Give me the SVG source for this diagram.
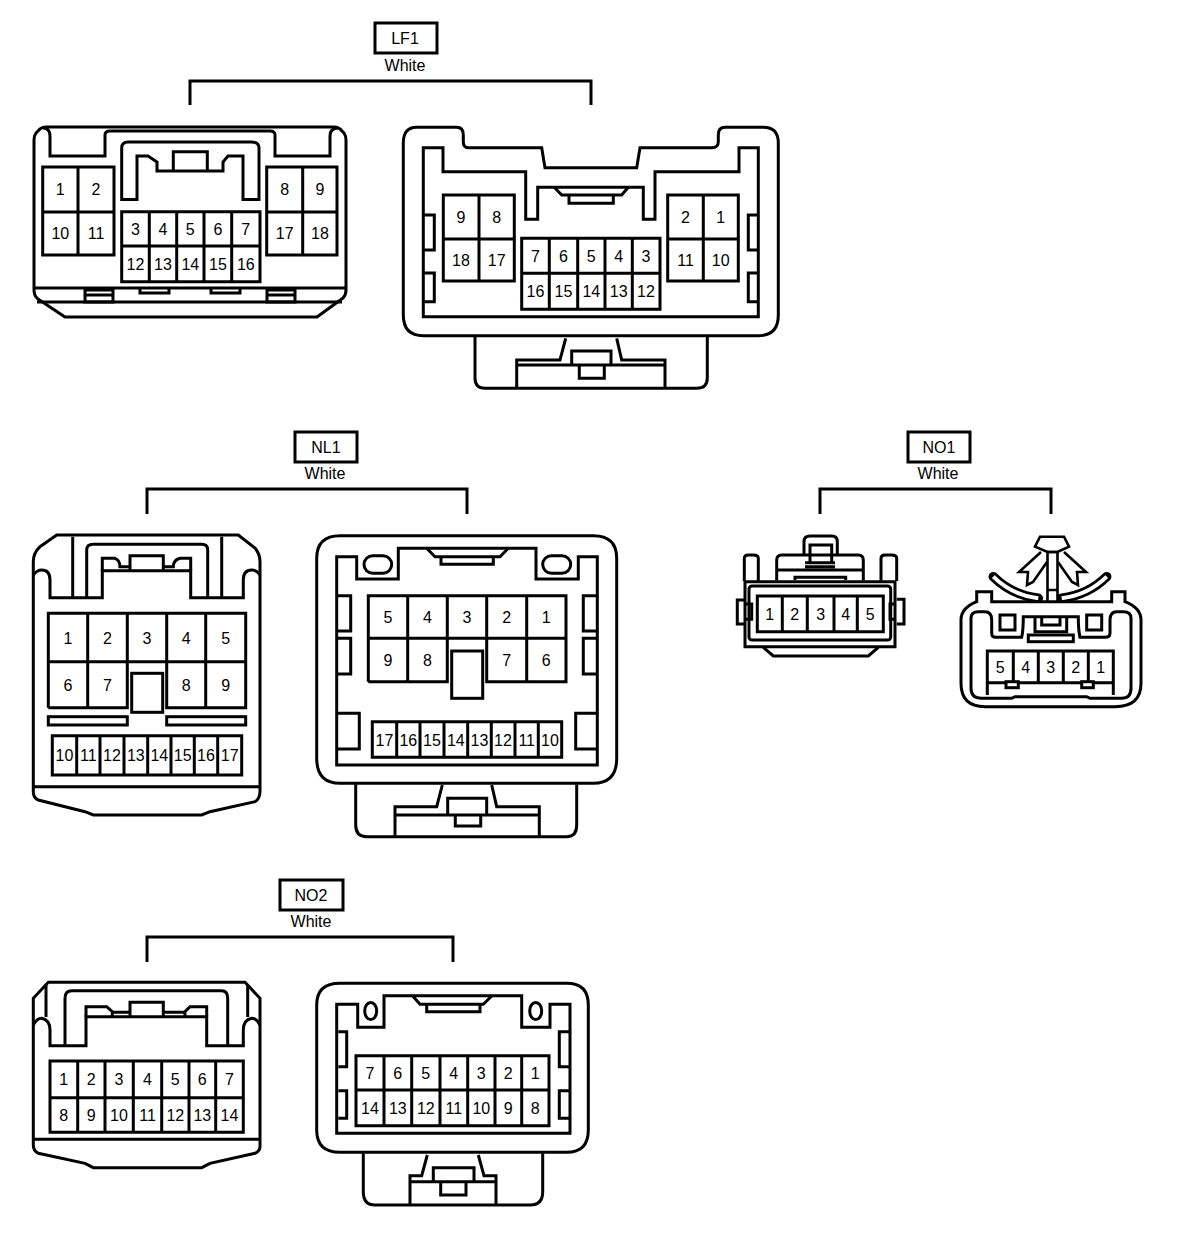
<svg xmlns="http://www.w3.org/2000/svg" width="1184" height="1234" viewBox="0 0 1184 1234">
<style>
path,rect,ellipse,line{fill:none;stroke:#000;stroke-width:3}
.t{stroke-width:2.6}
.w{stroke:#fff;stroke-width:4}
.a{stroke-width:9.5;stroke-linecap:round}
text{font-family:"Liberation Sans",Arial,sans-serif;font-size:16px;text-anchor:middle;fill:#000}
</style>
<rect width="1184" height="1234" style="fill:#fff;stroke:none"/>
<g id="connectors">
<path d="M190 105V81H591V105"/>
<path d="M147 514V489H467V514"/>
<path d="M820 514V489H1051V514"/>
<path d="M147 962V937H453V962"/>
</g>
<g id="label-LF1"><rect x="375" y="23" width="62" height="30"/><text x="405" y="44">LF1</text><text x="405" y="71">White</text></g>
<g id="label-NL1"><rect x="295" y="432" width="62" height="30"/><text x="326" y="453">NL1</text><text x="325" y="479">White</text></g>
<g id="label-NO1"><rect x="908" y="432" width="62" height="30"/><text x="939" y="453">NO1</text><text x="938" y="479">White</text></g>
<g id="label-NO2"><rect x="280" y="880" width="63" height="30"/><text x="311" y="901">NO2</text><text x="311" y="927">White</text></g>

<g id="LF1-left">
<path d="M46 127H334Q339 127 342 131L344 133Q346 136 346 140V290Q346 295 343 298L317 317H65L38 299Q34 296 34 290V140Q34 136 36 133L38 131Q41 127 46 127Z"/>
<path d="M34 288H346M37 302H342"/>
<path d="M43 128Q50 128 50 136V156H105V135Q105 131 110 131H270Q275 131 275 135V156H330V136Q330 128 338 128"/>
<path d="M121.7 199.5V148Q121.7 142 128 142H251Q259 142 259 148V199.5H243V156H228L223 162V171H157V162L148 156H137V199.5Z"/>
<path d="M173.3 171V151.7H207.3V171"/>
<path d="M85 290H113V302H85ZM85 295H113M267 290H295V302H267ZM267 295H295M140 289V293H169V289M211 289V293H240V289"/>
<path d="M42.7 167H114V255H42.7ZM42.7 212H114M78 167V255"/>
<path d="M266.7 167H337V255H266.7ZM266.7 212H337M302.7 167V255"/>
<path d="M121.7 211.7H260V281.7H121.7ZM121.7 246H260M149.3 211.7V281.7M176.7 211.7V281.7M204 211.7V281.7M231.7 211.7V281.7"/>
<text x="60.3" y="195">1</text><text x="96" y="195">2</text><text x="60.3" y="239">10</text><text x="96" y="239">11</text>
<text x="284.7" y="195">8</text><text x="320" y="195">9</text><text x="284.7" y="239">17</text><text x="320" y="239">18</text>
<text x="135.5" y="235">3</text><text x="163" y="235">4</text><text x="190.3" y="235">5</text><text x="218" y="235">6</text><text x="245.8" y="235">7</text>
<text x="135.5" y="270">12</text><text x="163" y="270">13</text><text x="190.3" y="270">14</text><text x="218" y="270">15</text><text x="245.8" y="270">16</text>
</g>

<g id="LF1-right">
<path d="M416.7 127.3H456.7Q463.3 127.3 463.3 135V141.7Q463.3 147.7 468.3 147.7H541.7L545 167.7H636.7L640 147.7H711.7Q718.3 147.7 718.3 141.7V135Q718.3 127.3 725 127.3H763.3Q778.3 127.3 778.3 143V315Q778.3 335.7 758.3 335.7H423.3Q403.3 335.7 403.3 315V143Q403.3 127.3 416.7 127.3Z"/>
<path d="M423.3 147.7H443V171.7H525.7V219.3H537.7V187.3H643.3V219.3H655V171.7H739V147.7H758.3V316.7H423.3Z"/>
<path d="M554.3 187.3L561.7 195H621.7L628.3 187.3M569 195V203.3H613.3V195"/>
<path d="M424 215H434.3V250H424M424 273H434.3V301.7H424M758 215H748.3V250H758M758 273H748.3V301.7H758"/>
<path d="M443.3 195H514.3V281H443.3ZM443.3 239H514.3M479 195V281"/>
<path d="M667.7 195H738.3V281H667.7ZM667.7 239H738.3M703.3 195V281"/>
<path d="M521.7 238.3H660V309.3H521.7ZM521.7 273.3H660M549.3 238.3V309.3M577.7 238.3V309.3M605 238.3V309.3M632.3 238.3V309.3"/>
<path d="M475 336.7V378Q475 388.3 485 388.3H696.7Q707.3 388.3 707.3 378V336.7"/>
<path d="M516.7 388V360H560L565.7 338.3M665 388V360H621.7L616.7 338.3M516.7 365H665M571.7 365V351H611V365M579.3 365V378.3H604.3V365"/>
<text x="461" y="223">9</text><text x="496.7" y="223">8</text><text x="461" y="266">18</text><text x="496.7" y="266">17</text>
<text x="685.5" y="223">2</text><text x="720.7" y="223">1</text><text x="685.5" y="266">11</text><text x="720.7" y="266">10</text>
<text x="535.5" y="262">7</text><text x="563.5" y="262">6</text><text x="591.3" y="262">5</text><text x="618.7" y="262">4</text><text x="646" y="262">3</text>
<text x="535.5" y="297">16</text><text x="563.5" y="297">15</text><text x="591.3" y="297">14</text><text x="618.7" y="297">13</text><text x="646" y="297">12</text>
</g>

<g id="NL1-left">
<path d="M56.7 535H238.3L255 548Q260 554 260 561.7V791Q260 799 255 801.7L210 811.7L201.7 815H93.3L85 811.7L38.3 800Q33.3 798 33.3 791.7V561.7Q33.3 553 40 546.7Z"/>
<path d="M33.3 786.7H260"/>
<path d="M33.3 575Q37 570 41.7 570Q50 570 50 580V597.7H102.3V570.7H190.7V597.7H243.3V580Q243.3 570 251.7 570Q256.7 570 260 575"/>
<path d="M86.7 597.7V550Q86.7 544.3 93.3 544.3H201.7Q207.7 544.3 207.7 550V597.7M72.7 597.7V536.7M221.7 597.7V536.7"/>
<path d="M102.3 570.7V558.3H115Q120 560 120 566.7H130M130 570.7V555.7H163.3V570.7M163.3 566.7H173.3Q173.3 560 180 558.3H190.7V570.7"/>
<path d="M48.3 707.7V613.3H245.7V707.7H166.7V613.3M48.3 707.7H127.3V613.3M48.3 661.7H245.7M87.7 613.3V707.7M205.7 613.3V707.7"/>
<rect x="131.7" y="673.3" width="31" height="39"/>
<rect x="48.3" y="716.7" width="79" height="8.3"/><rect x="166.7" y="716.7" width="79" height="8.3"/>
<path d="M52.3 735.7H241.7V775H52.3ZM76.7 735.7V775M100 735.7V775M124 735.7V775M147.7 735.7V775M171 735.7V775M194.3 735.7V775M217.7 735.7V775"/>
<text x="68" y="643.5">1</text><text x="107.5" y="643.5">2</text><text x="147" y="643.5">3</text><text x="186.2" y="643.5">4</text><text x="225.7" y="643.5">5</text>
<text x="68" y="690.7">6</text><text x="107.5" y="690.7">7</text><text x="186.2" y="690.7">8</text><text x="225.7" y="690.7">9</text>
<text x="64.5" y="761.3">10</text><text x="88.3" y="761.3">11</text><text x="112" y="761.3">12</text><text x="135.8" y="761.3">13</text><text x="159.3" y="761.3">14</text><text x="182.7" y="761.3">15</text><text x="206" y="761.3">16</text><text x="229.7" y="761.3">17</text>
</g>

<g id="NL1-right">
<path d="M340 535.7H593.3Q616.7 535.7 616.7 558.3V758.3Q616.7 783.3 593.3 783.3H340Q316.7 783.3 316.7 758.3V558.3Q316.7 535.7 340 535.7Z"/>
<path d="M336.7 556.7H356.7V579H398.3V548.3H536V579H578.3V556.7H597.3V765H336.7Z"/>
<path d="M426.7 548.3L435 556.7H500L508.3 548.3M441 556.7V564.3H493.3V556.7"/>
<rect x="364" y="555.7" width="27.7" height="17.6" rx="8.8"/><rect x="542.7" y="555.7" width="28" height="17.6" rx="8.8"/>
<path d="M338 595.7H350.7V631H338M338 638.3H350.7V674H338M338 713.3H359.3V749H338M596 595.7H583.3V631H596M596 638.3H583.3V674H596M596 713.3H575.7V749H596"/>
<path d="M368.3 681.7V595.7H566V681.7H486.7V595.7M368.3 681.7H447.3V595.7M368.3 638.3H566M407.7 595.7V681.7M526.7 595.7V681.7"/>
<rect x="451.7" y="651" width="31" height="47.3"/>
<path d="M372.3 721.7H561.7V757.3H372.3ZM396.7 721.7V757.3M420 721.7V757.3M444 721.7V757.3M467.7 721.7V757.3M491.3 721.7V757.3M515 721.7V757.3M538.3 721.7V757.3"/>
<path d="M355.7 784.3V825Q355.7 836.7 366.7 836.7H566.7Q576.7 836.7 576.7 825V784.3"/>
<path d="M395 836V806.7H436.7L442.3 785M539.3 836V806.7H496.7L491.7 785M395 815H539.3M447.7 815V798.3H486.7V815M455.3 815V826H480.7V815"/>
<text x="388" y="623">5</text><text x="427.5" y="623">4</text><text x="467" y="623">3</text><text x="506.7" y="623">2</text><text x="546.3" y="623">1</text>
<text x="388" y="666">9</text><text x="427.5" y="666">8</text><text x="506.7" y="666">7</text><text x="546.3" y="666">6</text>
<text x="384.5" y="745.5">17</text><text x="408.3" y="745.5">16</text><text x="432" y="745.5">15</text><text x="455.8" y="745.5">14</text><text x="479.5" y="745.5">13</text><text x="503" y="745.5">12</text><text x="526.7" y="745.5">11</text><text x="550" y="745.5">10</text>
</g>

<g id="NO1-left">
<path d="M804 555V541.7Q804 536 810 536H831.7Q837.3 536 837.3 541.7V555M810 562.7V545H831.7V562.7"/>
<path d="M776.7 580.7V560Q776.7 555 781.7 555H858.3Q863.3 555 863.3 560V580.7M776.7 570H863.3M805 562.7H835M805 566.7H835"/>
<path d="M744.3 581V558.3Q744.3 555 748.3 555H753.3Q758.3 555 758.3 558.3V581M881 581V558.3Q881 555 885 555H891.7Q896.7 555 896.7 558.3V581"/>
<path d="M795 580V577.3H845.7V580"/>
<path d="M745 581.7H895V646.7H745Z"/>
<rect x="749" y="586" width="141.7" height="54" rx="3"/>
<path d="M757.3 596H883.3V631.7H757.3ZM782.3 596V631.7M807.3 596V631.7M834 596V631.7M857.3 596V631.7"/>
<path d="M744.5 600H737.3V624H744.5M744.5 604H751.7V619.3H744.5M895 604H890V619.3H895M896.7 599.3H904V624H896.7"/>
<path d="M763.3 647.3L773.3 656H868.3L878.3 647.3"/>
<text x="769.8" y="619.8">1</text><text x="794.8" y="619.8">2</text><text x="820.6" y="619.8">3</text><text x="845.6" y="619.8">4</text><text x="870.3" y="619.8">5</text>
</g>

<g id="NO1-right">
<path class="a" d="M993.3 576.7Q1011.7 595 1038.3 598.3"/><path class="w" d="M993.3 576.7Q1011.7 595 1038.3 598.3"/>
<path class="a" d="M1106.7 576.7Q1088.3 595 1061.7 598.3"/><path class="w" d="M1106.7 576.7Q1088.3 595 1061.7 598.3"/>
<path class="t" d="M1047.5 601V552H1057.5V601M1047.5 590H1057.5"/>
<path class="t" d="M1035 546.7L1040 536.7H1064L1069 546.7L1057.5 552H1047.5Z"/>
<path class="t" d="M1041 552L1019 572H1028L1027 585L1033 582L1047 562M1064 552L1086 572H1077L1078 585L1072 582L1058 562"/>
<path d="M976.7 601.7V591.7H991.7V601.7H1111.7V591.7H1125V601.7Q1141 608 1141 620V683.3Q1141 706.7 1115 706.7H985Q961 706.7 961 683.3V620Q961 608 976.7 601.7Z"/>
<path d="M971 688.3Q971 698.3 981.7 698.3H1011.7L1015 696.7H1086.7L1090 698.3H1121.7Q1131 698.3 1131 688.3V618.3Q1131 611.7 1123.3 611.7H1116.7Q1110 611.7 1110 620V633.3Q1110 637.3 1105 637.3H1080Q1078.3 630 1078.3 616.7H1023.3Q1023.3 630 1021.7 637.3H996Q991.7 637.3 991.7 633.3V620Q991.7 611.7 985 611.7H978.3Q971 611.7 971 618.3Z"/>
<rect x="1000" y="615" width="15" height="15"/><rect x="1086.7" y="615" width="15" height="15"/>
<path d="M1035 616.7V631.7H1066.7V616.7M1041.7 617.3V625H1060V617.3"/>
<rect x="1028.3" y="635" width="45" height="6.7"/>
<path d="M987.3 695V651H1113.3V695M987.3 682.7H1113.3M1013.3 651V682.7M1038.3 651V682.7M1063.3 651V682.7M1088.3 651V682.7"/>
<rect x="1006" y="681.7" width="12.3" height="6" style="fill:#fff"/><rect x="1081.7" y="681.7" width="11.6" height="6" style="fill:#fff"/>
<text x="1000.3" y="673">5</text><text x="1025.8" y="673">4</text><text x="1050.8" y="673">3</text><text x="1075.8" y="673">2</text><text x="1100.8" y="673">1</text>
</g>

<g id="NO2-left">
<path d="M48.3 982.3H245L260 998.3V1146.7Q260 1151 255 1153.3L210 1163.3L201.7 1167.7H93.3L85 1163.3L38.3 1153.3Q33.3 1151 33.3 1145V998.3Z"/>
<path d="M33.3 1139.3H260M46 985V1017M247.7 985V1017"/>
<path d="M33.3 1025Q37 1018.3 41.7 1018.3Q50 1020 50 1030V1045.7H86V1016.7H206.7V1045.7H243.3V1030Q243.3 1020 251.7 1018.3Q256.7 1018.3 260 1025"/>
<path d="M65 1045.7V998.3Q65 990.7 71.7 990.7H221.7Q227.7 990.7 227.7 998.3V1045.7"/>
<path d="M86 1016.7V1006.7H106.7L112.3 1011.7V1016.7M112.3 1012.3H130M130 1016.7V1002.3H163.3V1016.7M163.3 1012.3H185M185 1016.7V1011.7L190 1006.7H206.7V1016.7"/>
<path d="M50 1061H243.3V1132.3H50ZM50 1097.7H243.3M77.7 1061V1132.3M105 1061V1132.3M133.3 1061V1132.3M161.7 1061V1132.3M189 1061V1132.3M215.7 1061V1132.3"/>
<text x="63.8" y="1085.3">1</text><text x="91.3" y="1085.3">2</text><text x="119" y="1085.3">3</text><text x="147.5" y="1085.3">4</text><text x="175.3" y="1085.3">5</text><text x="202.3" y="1085.3">6</text><text x="229.5" y="1085.3">7</text>
<text x="63.8" y="1121">8</text><text x="91.3" y="1121">9</text><text x="119" y="1121">10</text><text x="147.5" y="1121">11</text><text x="175.3" y="1121">12</text><text x="202.3" y="1121">13</text><text x="229.5" y="1121">14</text>
</g>

<g id="NO2-right">
<path d="M340 983.3H566.7Q588.3 983.3 588.3 1005V1130Q588.3 1152.3 566.7 1152.3H340Q316.7 1152.3 316.7 1130V1005Q316.7 983.3 340 983.3Z"/>
<path d="M336.7 1004.3H357.7V1027.3H384V995.7H521.7V1027.3H550V1004.3H570V1133.3H336.7Z"/>
<path d="M412.7 996L420 1004.3H483.3L491.7 996M426.7 1004.3V1011.7H480V1004.3"/>
<ellipse cx="370.7" cy="1011" rx="6" ry="8.5"/><ellipse cx="535.7" cy="1011" rx="6" ry="8.5"/>
<path d="M338.3 1031.7H346.7V1066.7H338.3M338.3 1090.7H346.7V1118.3H338.3M569 1031.7H559.3V1066.7H569M569 1090.7H559.3V1118.3H569"/>
<path d="M356 1055.7H549V1125.7H356ZM356 1090H549M384 1055.7V1125.7M411.7 1055.7V1125.7M440 1055.7V1125.7M467.7 1055.7V1125.7M495 1055.7V1125.7M521.7 1055.7V1125.7"/>
<path d="M363.3 1153.3V1191.7Q363.3 1205 375 1205H530Q542.7 1205 542.7 1191.7V1153.3"/>
<path d="M410 1205V1175.7H421.7L427.3 1155M496 1205V1175.7H484L478.3 1155M410 1181.7H496M433.3 1181.7V1167.7H474V1181.7M440.7 1181.7V1195H466V1181.7"/>
<text x="370" y="1078.8">7</text><text x="397.8" y="1078.8">6</text><text x="425.8" y="1078.8">5</text><text x="453.8" y="1078.8">4</text><text x="481.3" y="1078.8">3</text><text x="508.3" y="1078.8">2</text><text x="535.3" y="1078.8">1</text>
<text x="370" y="1113.8">14</text><text x="397.8" y="1113.8">13</text><text x="425.8" y="1113.8">12</text><text x="453.8" y="1113.8">11</text><text x="481.3" y="1113.8">10</text><text x="508.3" y="1113.8">9</text><text x="535.3" y="1113.8">8</text>
</g>
</svg>
